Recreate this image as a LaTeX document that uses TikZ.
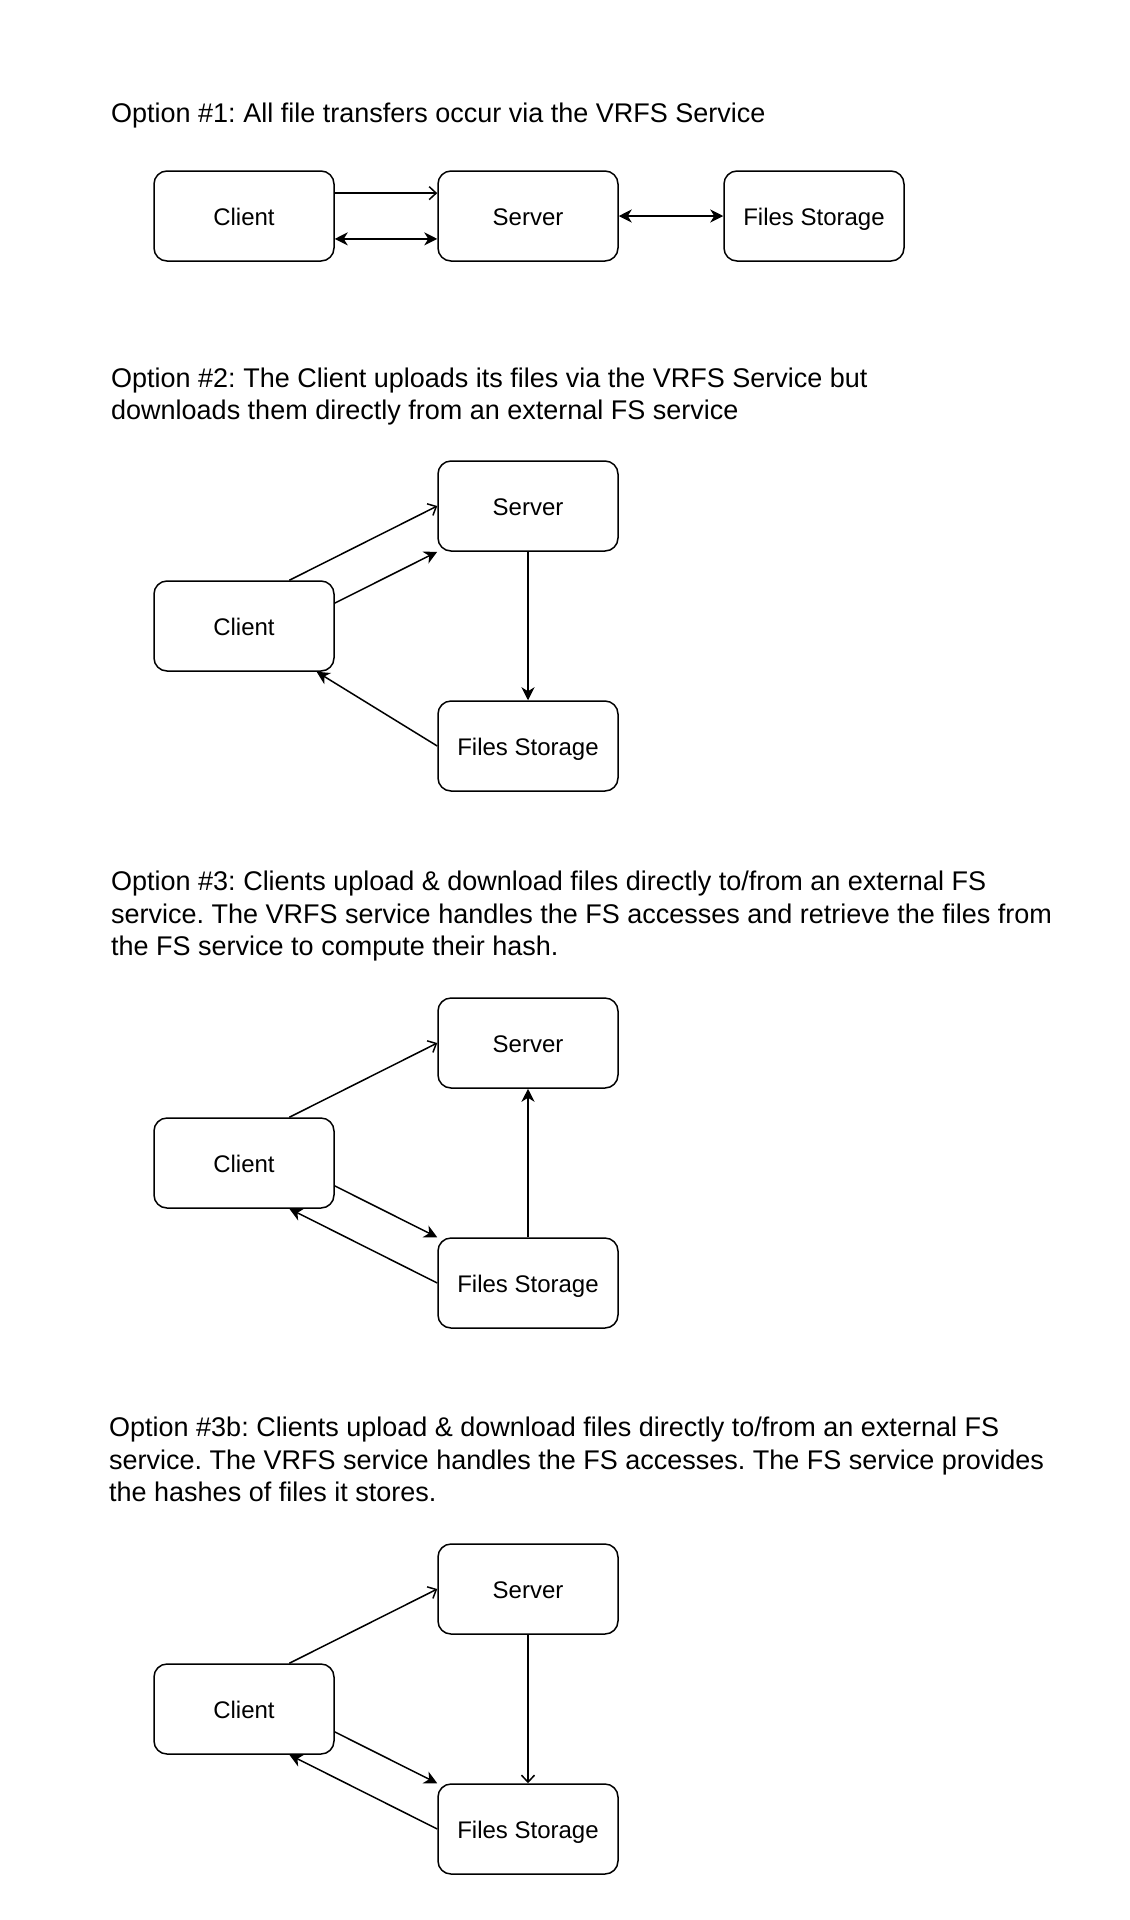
\documentclass[tikz,border=0pt]{standalone}
\usepackage{fontspec}
\setmainfont{Liberation Sans}
\usetikzlibrary{arrows.meta,calc}
\tikzset{
  box/.style={draw=black, line width=1.5pt, rounded corners=13pt, minimum width=180pt, minimum height=90pt, inner sep=0pt, text height=19.5pt, text depth=0pt, font=\fontsize{24}{28}\selectfont},
  title/.style={anchor=base west, inner sep=0pt, font=\frenchspacing\fontsize{27}{32}\selectfont},
  edge/.style={line width=1.5pt, draw=black},
  fil/.style={edge, -{Stealth[length=13pt,width=13pt,inset=4pt]}},
  bifil/.style={edge, {Stealth[length=13pt,width=13pt,inset=4pt]}-{Stealth[length=13pt,width=13pt,inset=4pt]}},
  opn/.style={edge, -{Straight Barb[length=7pt,width=13pt,line width=1.5pt]}}
}
\begin{document}
\frenchspacing
\begin{tikzpicture}[x=1pt,y=-1pt]
\useasboundingbox (0,0) rectangle (1130,1920);
% Option 1
\node[title] (t1) at (111,122) {Option \#1: All file transfers occur via the VRFS Service};
\node[box] (c1) at (244,216) {Client};
\node[box] (s1) at (528,216) {Server};
\node[box] (f1) at (814,216) {Files Storage};
\draw[opn] ($(c1.north east)!0.25!(c1.south east)$) -- ($(s1.north west)!0.25!(s1.south west)$);
\draw[bifil] ($(c1.north east)!0.75!(c1.south east)$) -- ($(s1.north west)!0.75!(s1.south west)$);
\draw[bifil] (s1.east) -- (f1.west);
% Option 2
\node[title] (t2a) at (111,387) {Option \#2: The Client uploads its files via the VRFS Service but};
\node[title] (t2b) at (111,419) {downloads them directly from an external FS service};
\node[box] (s2) at (528,506) {Server};
\node[box] (c2) at (244,626) {Client};
\node[box] (f2) at (528,746) {Files Storage};
\draw[opn] ($(c2.north west)!0.75!(c2.north east)$) -- (s2.west);
\draw[fil] ($(c2.north east)!0.25!(c2.south east)$) -- (s2.south west);
\draw[fil] (s2.south) -- (f2.north);
\draw[fil] (f2.west) -- ($(c2.south west)!0.9!(c2.south east)$);
% Option 3
\node[title] (t3a) at (111,890) {Option \#3: Clients upload \& download files directly to/from an external FS};
\node[title] (t3b) at (111,923) {service. The VRFS service handles the FS accesses and retrieve the files from};
\node[title] (t3c) at (111,955) {the FS service to compute their hash.};
\node[box] (s3) at (528,1043) {Server};
\node[box] (c3) at (244,1163) {Client};
\node[box] (f3) at (528,1283) {Files Storage};
\draw[opn] ($(c3.north west)!0.75!(c3.north east)$) -- (s3.west);
\draw[fil] ($(c3.north east)!0.75!(c3.south east)$) -- (f3.north west);
\draw[fil] (f3.west) -- ($(c3.south west)!0.75!(c3.south east)$);
\draw[fil] (f3.north) -- (s3.south);
% Option 3b
\node[title] (t4a) at (109,1436) {Option \#3b: Clients upload \& download files directly to/from an external FS};
\node[title] (t4b) at (109,1469) {service. The VRFS service handles the FS accesses. The FS service provides};
\node[title] (t4c) at (109,1501) {the hashes of files it stores.};
\node[box] (s4) at (528,1589) {Server};
\node[box] (c4) at (244,1709) {Client};
\node[box] (f4) at (528,1829) {Files Storage};
\draw[opn] ($(c4.north west)!0.75!(c4.north east)$) -- (s4.west);
\draw[fil] ($(c4.north east)!0.75!(c4.south east)$) -- (f4.north west);
\draw[fil] (f4.west) -- ($(c4.south west)!0.75!(c4.south east)$);
\draw[opn] (s4.south) -- (f4.north);
\end{tikzpicture}
\end{document}
